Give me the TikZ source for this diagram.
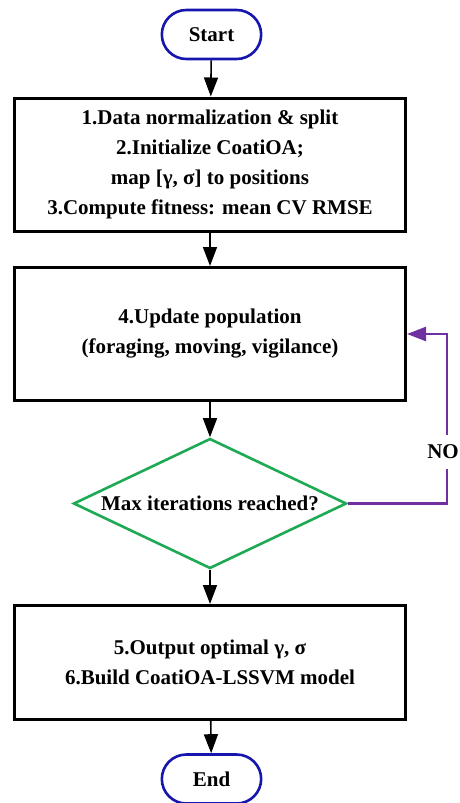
\documentclass[tikz,border=0pt]{standalone}
\usepackage{fontspec}
\setmainfont{Liberation Serif}
\usetikzlibrary{arrows.meta,shapes.geometric,shapes.misc}

\definecolor{termblue}{RGB}{22,22,175}
\definecolor{decgreen}{RGB}{30,170,85}
\definecolor{looppurple}{RGB}{112,48,160}

\tikzset{
  boldtext/.style={font=\fontsize{21}{30}\selectfont\bfseries},
  terminal/.style={rounded rectangle, draw=termblue, line width=2.6pt,
    minimum width=106pt, minimum height=49pt, boldtext},
  process/.style={rectangle, draw=black, line width=3pt, minimum width=391pt,
    align=center, boldtext},
  decision/.style={diamond, draw=decgreen, line width=2.6pt, aspect=2.08,
    inner sep=0pt, minimum width=273pt, minimum height=130pt, boldtext},
  flow/.style={-{Triangle[length=19pt,width=14pt]}, line width=1.6pt},
  loopline/.style={-{Triangle[length=19pt,width=14pt]}, draw=looppurple,
    line width=2.4pt}
}

\begin{document}
\begin{tikzpicture}[x=1pt,y=-1pt]
\useasboundingbox (0,0) rectangle (460,803);

% Nodes of the flow
\node[terminal] (start) at (211.5,34.5) {Start};
\node[process, minimum height=133pt] (prep) at (210,164.5)
  {1.Data normalization \& split\\2.Initialize CoatiOA;\\map [γ, σ] to positions\\3.Compute fitness: mean CV RMSE};
\node[process, minimum height=133pt] (upd) at (210,334)
  {4.Update population\\(foraging, moving, vigilance)};
\node[decision] (dec) at (210,503.5) {Max iterations reached?};
\node[process, minimum height=114pt] (out) at (210,662.5)
  {5.Output optimal γ, σ\\6.Build CoatiOA-LSSVM model};
\node[terminal] (end) at (211.5,779) {End};

% Main arrows
\draw[flow] (start) -- (prep);
\draw[flow] (prep) -- (upd);
\draw[flow] (upd) -- (dec);
\draw[flow] (dec) -- (out);
\draw[flow] (out) -- (end);

% Loop back when not finished
\coordinate (loopturn) at (447,420);
\draw[loopline] (dec.east) -| (loopturn) |- (upd.east);
\node[boldtext, fill=white, inner xsep=0pt, inner ysep=10pt, anchor=east] (nolab) at (459,452) {NO};
\end{tikzpicture}
\end{document}
